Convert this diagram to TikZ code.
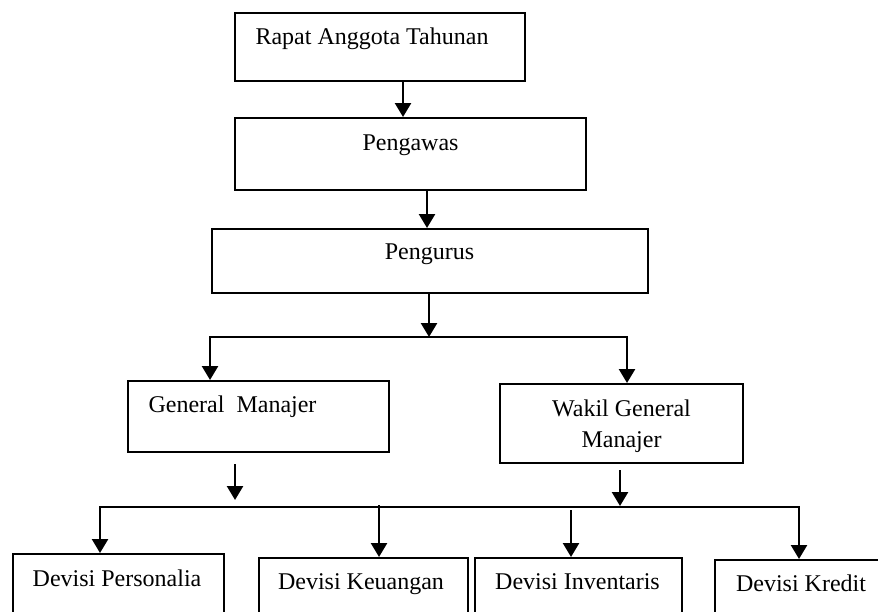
\documentclass[tikz,border=0pt]{standalone}
\usepackage{fontspec}
\setmainfont{Liberation Serif}
\usetikzlibrary{positioning,arrows.meta}
\def\tebal{1pt}
\def\tebalpanah{1.25pt}
\tikzset{
  kotak/.style={draw, line width=\tebal, inner sep=0pt},
  teks/.style={anchor=base, inner sep=0pt, align=center,
    font=\fontsize{12}{15.5}\selectfont},
  panah/.style={line width=\tebalpanah, -{Triangle[width=8pt,length=7pt]}},
  cabang/.style={line width=\tebalpanah,
    {Triangle[width=8pt,length=7pt]}-{Triangle[width=8pt,length=7pt]}},
}

\begin{document}
\begin{tikzpicture}[x=0.5pt, y=-0.5pt]
  \useasboundingbox (0,0) rectangle (878,611);

  % kotak-kotak struktur
  \node[kotak, minimum width=145pt, minimum height=34pt] (rat) at (380,47) {};
  \node[kotak, minimum width=175.5pt, minimum height=36pt] (pengawas) at (410.5,154) {};
  \node[kotak, minimum width=218pt, minimum height=32pt] (pengurus) at (429.5,261) {};
  \node[kotak, minimum width=130.5pt, minimum height=35.5pt] (gm) at (258.5,416.5) {};
  \node[kotak, minimum width=121.5pt, minimum height=39.5pt] (wgm) at (621.5,423.5) {};
  \node[kotak, minimum width=105.5pt, minimum height=43pt] (personalia) at (118.5,597) {};
  \node[kotak, minimum width=104.5pt, minimum height=41pt] (keuangan) at (363.5,599) {};
  \node[kotak, minimum width=103.5pt, minimum height=41pt] (inventaris) at (578.5,599) {};
  \node[kotak, minimum width=86pt, minimum height=40pt] (kredit) at (801,600) {};

  % teks di dalam kotak
  \node[teks] (rat-teks) at ([xshift=-4pt, yshift=-16pt]rat.north) {Rapat Anggota Tahunan};
  \node[teks] (pengawas-teks) at ([yshift=-16.5pt]pengawas.north) {Pengawas};
  \node[teks] (pengurus-teks) at ([yshift=-15.5pt]pengurus.north) {Pengurus};
  \node[teks] (gm-teks) at ([xshift=-13pt, yshift=-16pt]gm.north) {General\ \ Manajer};
  \node[teks] (wgm-teks) at ([yshift=-32pt]wgm.north) {Wakil General\\Manajer}; % base = baris terakhir
  \node[teks] (personalia-teks) at ([xshift=-0.75pt, yshift=-16.5pt]personalia.north) {Devisi Personalia};
  \node[teks] (keuangan-teks) at ([xshift=-1.25pt, yshift=-16pt]keuangan.north) {Devisi Keuangan};
  \node[teks] (inventaris-teks) at ([xshift=-0.5pt, yshift=-16pt]inventaris.north) {Devisi Inventaris};
  \node[teks] (kredit-teks) at ([yshift=-16pt]kredit.north) {Devisi Kredit};

  % titik cabang
  \coordinate (cabang1) at (429,337);
  \coordinate (cabang1-kiri) at (210,337);
  \coordinate (cabang1-kanan) at (627,337);
  \coordinate (ujung-gm) at (235,500);
  \coordinate (ujung-wgm) at (620,506);
  \coordinate (cabang2-kiri) at (100,507);
  \coordinate (cabang2-kanan) at (799,507);
  \coordinate (cabang2-a) at (379,505);
  \coordinate (cabang2-b) at (571,510);

  % garis dan panah
  \draw[panah] ([xshift=11.5pt]rat.south) -- ([xshift=11.5pt]rat.south |- pengawas.north);
  \draw[panah] ([xshift=8.25pt]pengawas.south) -- ([xshift=8.25pt]pengawas.south |- pengurus.north);
  \draw[panah] (pengurus.south -| cabang1) -- (cabang1);
  \draw[cabang] (cabang1-kiri |- gm.north) -- (cabang1-kiri) -- (cabang1-kanan)
    -- (cabang1-kanan |- wgm.north);

  \draw[panah] ([yshift=-5.5pt]gm.south -| ujung-gm) -- (ujung-gm);
  \draw[panah] ([yshift=-3pt]wgm.south -| ujung-wgm) -- (ujung-wgm);
  \draw[cabang] (cabang2-kiri |- personalia.north) -- (cabang2-kiri) -- (cabang2-kanan)
    -- (cabang2-kanan |- kredit.north);
  \draw[panah] (cabang2-a) -- (cabang2-a |- keuangan.north);
  \draw[panah] (cabang2-b) -- (cabang2-b |- inventaris.north);

\end{tikzpicture}
\end{document}
